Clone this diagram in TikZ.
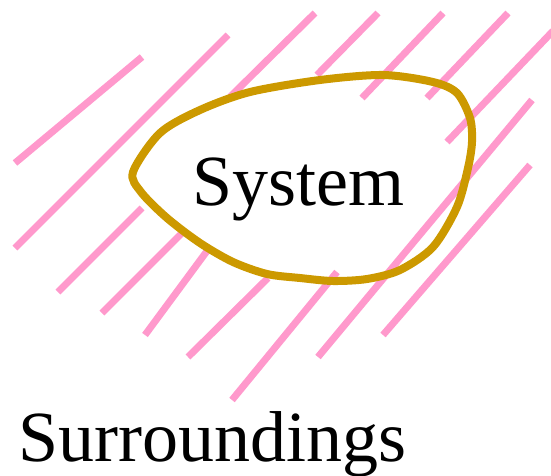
\documentclass[tikz,border=0pt]{standalone}
\usepackage{fontspec}
\setmainfont{Liberation Serif}
\usepackage{tikz}
\usepackage{xcolor}

\definecolor{hatchpink}{HTML}{FF99CC}
\definecolor{rimgold}{HTML}{CC9900}

\begin{document}
\begin{tikzpicture}[x=1pt,y=-1pt,
        hatch/.style={line width=7pt, hatchpink},
        rim/.style={line width=8pt, rimgold},
        bigtext/.style={inner sep=0pt, anchor=base, font=\fontsize{72}{80}\selectfont}]
            \useasboundingbox (0,0) rectangle (551,476);

            % Surroundings hatching
            \foreach \xa/\ya/\xb/\yb in {15/163/142/57, 228/35/15/248,
                315/13/230/97, 378/13/317/75, 443/13/362/98, 508/13/427/98,
                553/31/447/142, 532/100/318/357, 530/165/383/335,
                337/272/232/400, 268/278/188/357, 207/251/145/335,
                182/233/102/313, 142/208/58/292}
            {
            \draw[hatch] (\xa,\ya) -- (\xb,\yb);
            }

            % System boundary
            \draw[rim] plot[smooth cycle, tension=0.5] coordinates {
                (133,172) (160,133) (200,110) (250,92) (320,80) (383,75)
                (433,82) (457,93) (470,118) (472,142) (468,168) (457,207)
                (433,247) (400,270) (367,279) (333,281) (300,278) (267,274)
                (233,262) (200,243) (167,218) (141,192)};

            \node[bigtext] (system) at (298.5,205) {System};
            \node[bigtext] (surroundings) at (212.5,461) {Surroundings};

        \end{tikzpicture}
\end{document}
